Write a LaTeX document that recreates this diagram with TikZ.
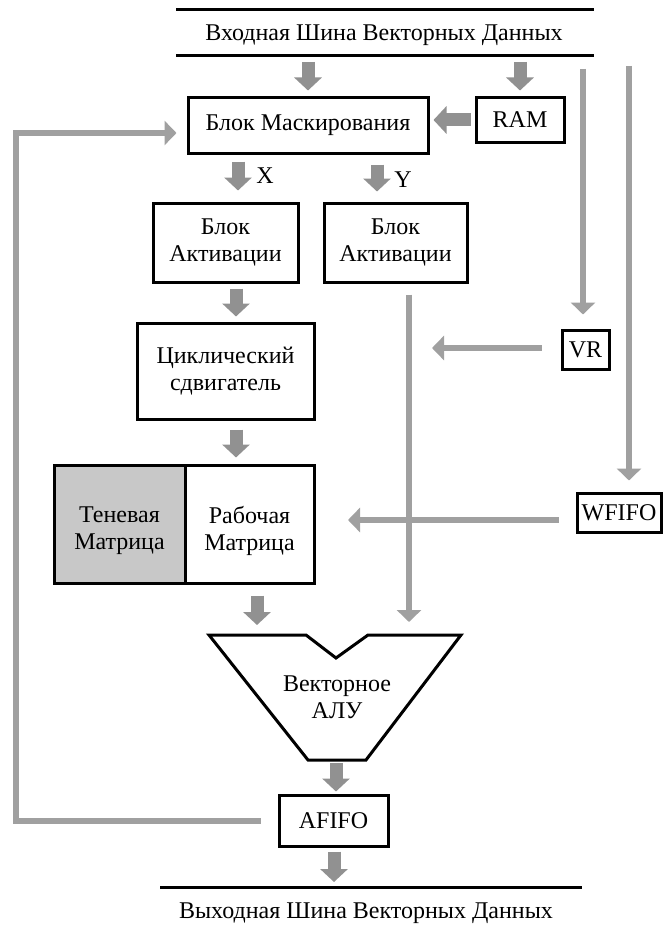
\documentclass[tikz,border=0pt]{standalone}
\usepackage{fontspec}
\setmainfont{Liberation Serif}
\usetikzlibrary{arrows.meta}
\definecolor{fatgray}{RGB}{145,145,145}
\definecolor{linegray}{RGB}{160,160,160}
\definecolor{shadowfill}{RGB}{200,200,200}
\begin{document}
\begin{tikzpicture}[x=1pt,y=-1pt,
  every node/.style={font=\fontsize{24}{27}\selectfont, inner sep=0pt, align=center},
  blockbox/.style={draw=black, line width=3pt, fill=white},
  fat/.style={draw=fatgray, line width=13pt, -{Triangle[length=13pt,width=27pt]}},
  wire/.style={draw=linegray, line width=6pt},
  wirearrow/.style={wire, line join=miter, -{Triangle[length=12pt,width=24pt]}},
  busline/.style={draw=black, line width=3pt},
]
\useasboundingbox (0,0) rectangle (664,939);
\fill[white] (0,0) rectangle (664,939);

% input bus
\draw[busline] (176,10) -- (594,10);
\draw[busline] (176,56) -- (594,56);
\node (inbus) at (384,35) {Входная Шина Векторных Данных};
\coordinate (busIn) at (0,56);

% blocks
\node[blockbox, minimum width=240pt, minimum height=55pt] (mask) at (308,125.5) {Блок Маскирования};
\node[blockbox, minimum width=88pt, minimum height=44pt] (ram) at (520,120) {RAM};
\node[blockbox, minimum width=145pt, minimum height=79pt] (act1) at (225.5,242.5) {Блок\\Активации};
\node[blockbox, minimum width=143pt, minimum height=79pt] (act2) at (395.5,242.5) {Блок\\Активации};
\node[blockbox, minimum width=177pt, minimum height=96pt] (shifter) at (225.5,371) {Циклический\\сдвигатель};
\node[blockbox, fill=shadowfill, minimum width=131pt, minimum height=118pt] (shadow) at (119.5,524) {};
\node[blockbox, minimum width=129pt, minimum height=118pt] (work) at (249.5,524) {};
\node (shadowtext) at ([yshift=-7pt]shadow.center) {Теневая\\Матрица};
\node (worktext) at ([yshift=-7pt]work.center) {Рабочая\\Матрица};
\node[blockbox, minimum width=47pt, minimum height=39pt] (vr) at (585.5,350) {VR};
\node[blockbox, minimum width=84pt, minimum height=39pt] (wfifo) at (619,512.5) {WFIFO};
\node[blockbox, minimum width=109pt, minimum height=51pt] (afifo) at (333.5,820.5) {AFIFO};

% vector ALU outline
\draw[line width=3pt, line join=miter, fill=white]
  (209,635) -- (306,635) -- (336,658) -- (368,635) -- (461,635)
  -- (366,760) -- (308,760) -- cycle;
\coordinate (alutop) at (337,635);
\coordinate (alubot) at (337,760);
\node (alu) at (337,697) {Векторное\\АЛУ};

% output bus
\draw[busline] (160,887) -- (582,887);
\coordinate (busOut) at (0,887);
\node (outbus) at (366,913) {Выходная Шина Векторных Данных};

% channel labels
\node (xlab) at (265,176) {X};
\node (ylab) at (403,180) {Y};

% column positions of the arrows
\coordinate (xcol) at (238,0);
\coordinate (ycol) at (377,0);
\coordinate (acol) at (236,0);
\coordinate (mcol) at (257,0);
\coordinate (ycol2) at (409,0);
\coordinate (fcol) at (336,0);
\coordinate (ocol) at (334,0);

% wide data arrows
\draw[fat, shorten <=6pt, shorten >=6pt] (busIn -| mask) -- (mask.north);
\draw[fat, shorten <=6pt, shorten >=6pt] (busIn -| ram) -- (ram.north);
\draw[fat, shorten <=4pt, shorten >=4pt] (ram.west) -- (ram.west -| mask.east);
\draw[fat, shorten <=7pt, shorten >=11pt] (mask.south -| xcol) -- (act1.north -| xcol);
\draw[fat, shorten <=10pt, shorten >=10pt] (mask.south -| ycol) -- (act2.north -| ycol);
\draw[fat, shorten <=5pt, shorten >=5pt] (act1.south -| acol) -- (shifter.north -| acol);
\draw[fat, shorten <=9pt, shorten >=6pt] (shifter.south -| acol) -- (work.north -| acol);
\draw[fat, shorten <=11pt, shorten >=10pt] (work.south -| mcol) -- (alutop -| mcol);
\draw[fat, shorten <=3pt, shorten >=2pt] (alubot -| fcol) -- (afifo.north -| fcol);
\draw[fat, shorten <=4pt, shorten >=5pt] (afifo.south -| ocol) -- (busOut -| ocol);

% thin control lines
\coordinate (tapVR) at (583,69);
\coordinate (tapWF) at (629,66);
\coordinate (vrTip) at (432,348);
\coordinate (wfTip) at (348,520);
\draw[wirearrow, shorten >=14.5pt] (tapVR) -- (vr.north -| tapVR);
\draw[wirearrow, shorten >=11pt] (tapWF) -- (wfifo.north -| tapWF);
\draw[wirearrow, shorten <=19pt] (vr.west |- vrTip) -- (vrTip);
\draw[wirearrow, shorten <=17pt] (wfifo.west |- wfTip) -- (wfTip);
\draw[wirearrow, shorten <=11pt, shorten >=13pt] (act2.south -| ycol2) -- (alutop -| ycol2);

% feedback from AFIFO to the masking block
\coordinate (loopB) at (15.5,0);
\coordinate (loopT) at (0,133);
\draw[wirearrow, shorten <=17pt, shorten >=10pt]
  (afifo.west) -- (afifo.west -| loopB) -- (loopB |- loopT) -- (mask.west |- loopT);
\end{tikzpicture}
\end{document}
